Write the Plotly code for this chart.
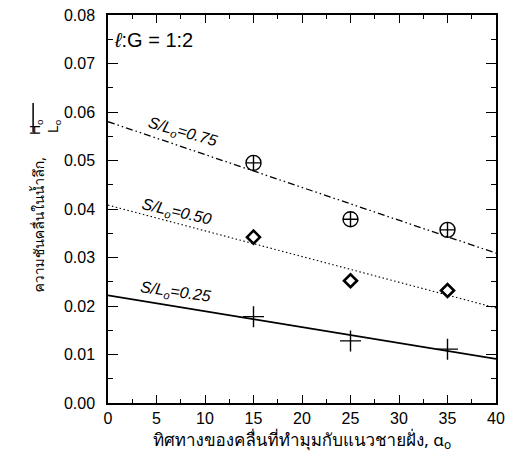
import plotly.graph_objects as go

# ---- data ----
alpha_pts = [15, 25, 35]
steep_075 = [0.0495, 0.0379, 0.0357]
steep_050 = [0.0342, 0.0252, 0.0232]
steep_025 = [0.0178, 0.0128, 0.0111]

fit_x = [0, 40]
fit_075 = [0.0580, 0.0309]
fit_050 = [0.0408, 0.0196]
fit_025 = [0.0222, 0.0091]

x_ticks = [0, 5, 10, 15, 20, 25, 30, 35, 40]
y_ticks = [0.00, 0.01, 0.02, 0.03, 0.04, 0.05, 0.06, 0.07, 0.08]

labels = ["S/L<sub>o</sub>=0.75", "S/L<sub>o</sub>=0.50", "S/L<sub>o</sub>=0.25"]
label_x = [7.7, 7.1, 7.0]
label_y = [0.0557, 0.0392, 0.0227]
label_rot = [16, 13, 8]

FONT = "Liberation Sans, Arial, sans-serif"
THAI = "Noto Sans, Loma, Garuda, sans-serif"

fig = go.Figure()

# fitted lines
fig.add_trace(go.Scatter(x=fit_x, y=fit_075, mode="lines",
                         line=dict(color="black", width=1.3, dash="7px,3px,1.5px,3px,1.5px,3px"),
                         showlegend=False))
fig.add_trace(go.Scatter(x=fit_x, y=fit_050, mode="lines",
                         line=dict(color="black", width=1.1, dash="1.5px,2.5px"),
                         showlegend=False))
fig.add_trace(go.Scatter(x=fit_x, y=fit_025, mode="lines",
                         line=dict(color="black", width=1.6),
                         showlegend=False))

# data markers
fig.add_trace(go.Scatter(x=alpha_pts, y=steep_075, mode="markers",
                         marker=dict(symbol="circle-cross-open", size=15, color="black",
                                     line=dict(width=1.4, color="black")),
                         showlegend=False))
fig.add_trace(go.Scatter(x=alpha_pts, y=steep_050, mode="markers",
                         marker=dict(symbol="diamond-open", size=10, color="black",
                                     line=dict(width=2.6, color="black")),
                         showlegend=False))
fig.add_trace(go.Scatter(x=alpha_pts, y=steep_025, mode="markers",
                         marker=dict(symbol="cross-thin-open", size=15, color="black",
                                     line=dict(width=1.4, color="black")),
                         showlegend=False))

for t, lx, ly, rot in zip(labels, label_x, label_y, label_rot):
    fig.add_annotation(x=lx, y=ly, text="<i>" + t + "</i>", showarrow=False,
                       textangle=rot, font=dict(family=FONT, size=16, color="black"))

fig.add_annotation(x=0.45, y=0.0749, xanchor="left", yanchor="middle",
                   text="<i>ℓ</i>:G = 1:2", showarrow=False,
                   font=dict(family=FONT, size=20, color="black"))

# y-axis title (Thai text + fraction H0/L0)
fig.add_annotation(xref="paper", yref="paper", x=-0.209, y=0.461,
                   text="ความชันคลื่นในน้ำลึก,", showarrow=False, textangle=-90,
                   font=dict(family=THAI, size=14, color="black"))
fig.add_annotation(xref="paper", yref="paper", x=-0.214, y=0.737,
                   text="H<sub>o</sub>", showarrow=False, textangle=-90,
                   font=dict(family=FONT, size=14, color="black"))
fig.add_annotation(xref="paper", yref="paper", x=-0.1675, y=0.737,
                   text="L<sub>o</sub>", showarrow=False, textangle=-90,
                   font=dict(family=FONT, size=14, color="black"))
fig.add_shape(type="line", xref="paper", yref="paper", x0=-0.193, x1=-0.193, y0=0.698, y1=0.773,
              line=dict(color="black", width=1.5))

fig.update_layout(
    width=505, height=472,
    margin=dict(l=108, r=9, t=15, b=69, autoexpand=False),
    plot_bgcolor="white", paper_bgcolor="white",
    font=dict(family=FONT, size=16, color="black"),
    xaxis=dict(range=[0, 40], tickvals=x_ticks, ticks="inside", ticklen=8, tickwidth=1.3,
               tickcolor="black", showline=True, linecolor="black", linewidth=1.5,
               mirror="ticks", showgrid=False, zeroline=False, automargin=False,
               tickfont=dict(size=16),
               minor=dict(dtick=2.5, ticks="inside", ticklen=4, tickwidth=1.2, tickcolor="black",
                          showgrid=False),
               title=dict(text="ทิศทางของคลื่นที่ทำมุมกับแนวชายฝั่ง, α<sub>o</sub>",
                          font=dict(family=THAI, size=17), standoff=8)),
    yaxis=dict(range=[0, 0.08], tickvals=y_ticks, tickformat=".2f", ticks="inside",
               ticklen=10, tickwidth=1.3, tickcolor="black", showline=True, linecolor="black",
               linewidth=1.5, mirror="ticks", showgrid=False, zeroline=False, automargin=False,
               tickfont=dict(size=16), ticklabelstandoff=8,
               minor=dict(dtick=0.005, ticks="inside", ticklen=5, tickwidth=1.2, tickcolor="black",
                          showgrid=False)),
)

fig.write_html("out.html", config={"displayModeBar": False},
               post_script="document.body.style.margin='0';")
